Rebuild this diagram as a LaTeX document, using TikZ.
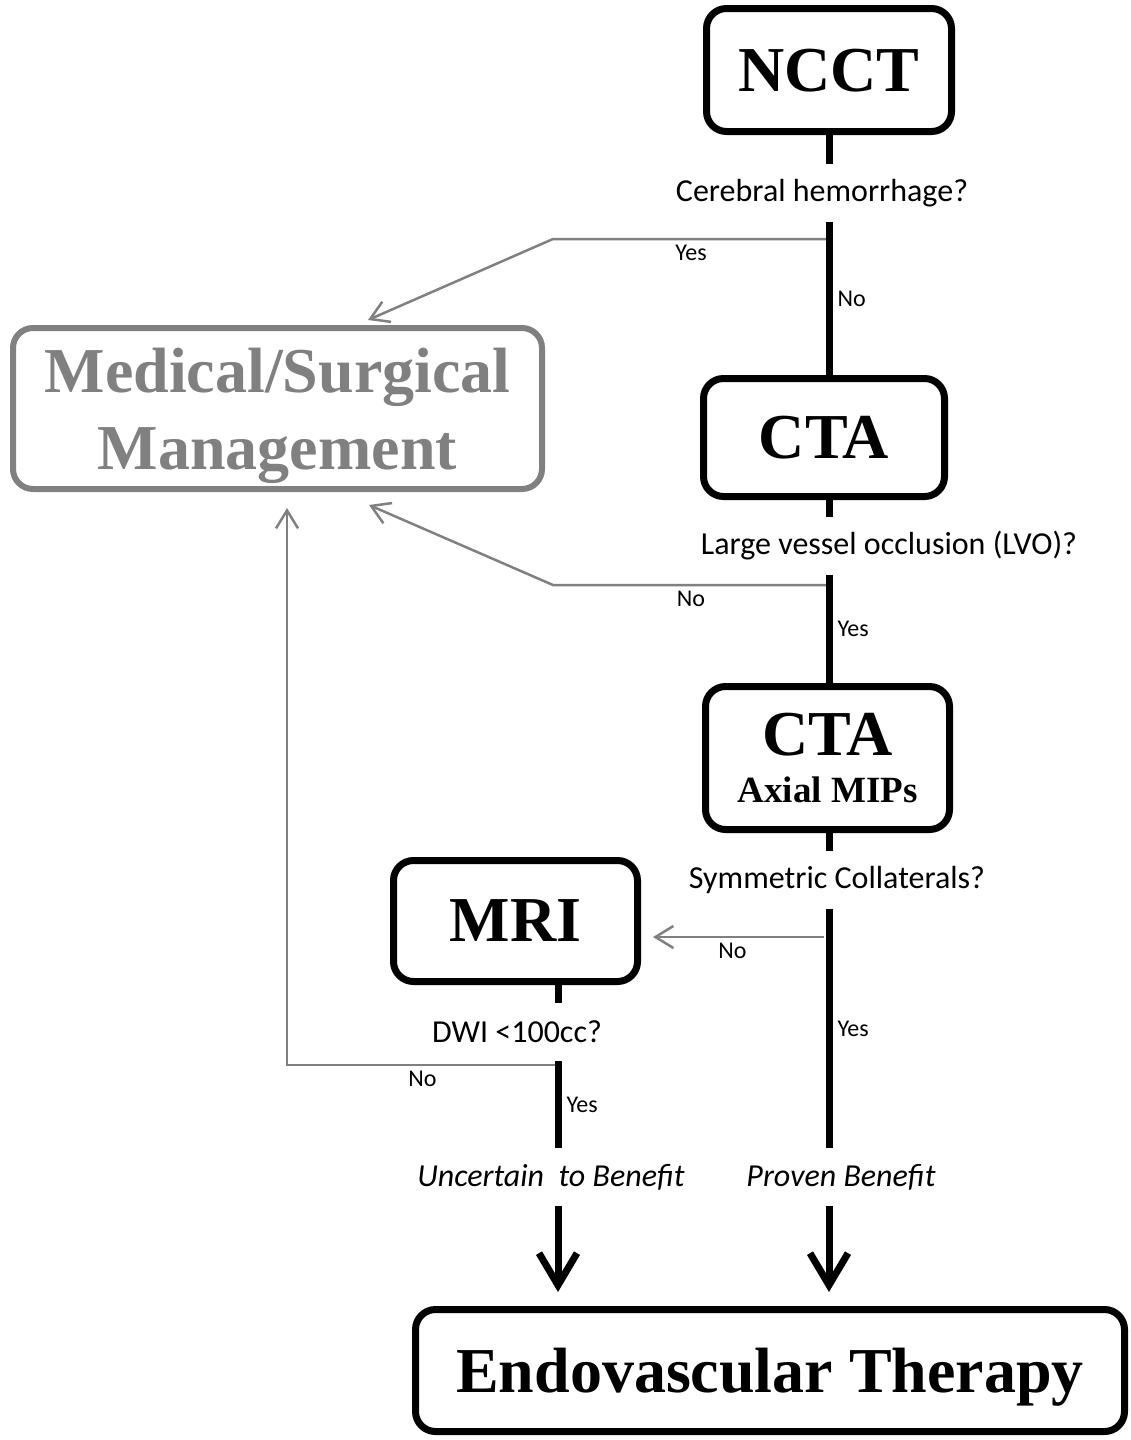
\documentclass[tikz,border=0pt]{standalone}
\usepackage{fontspec}
\setmainfont{Liberation Serif}
\newfontfamily\labelfont{Carlito}
\usetikzlibrary{arrows.meta}
\usetikzlibrary{positioning}
\definecolor{mgray}{HTML}{808080}
\tikzset{x=1pt, y=-1pt,
test/.style={ % Sets the properties for each exam box
draw,
line width=7pt,
rounded corners=20pt,
inner sep=0pt,
text depth=0pt,
align=center,
font=\bfseries\fontsize{64}{77}\selectfont},
offtest/.style={ % The gray management box
test,
draw=mgray,
text=mgray,
line width=6pt},
question/.style={ % Question text sitting in a gap of the line
font=\labelfont\fontsize{32}{38}\selectfont,
minimum height=58pt,
inner sep=0pt},
outcome/.style={ % Italic benefit text
question,
font=\labelfont\itshape\fontsize{32}{38}\selectfont},
answer/.style={ % Yes/No on the lines
font=\labelfont\fontsize{24}{29}\selectfont,
inner sep=5pt},
mainline/.style={draw, line width=7pt},
sideline/.style={ % Thin gray branch with open tip
draw=mgray,
line width=2.5pt,
-{Straight Barb[length=18pt,width=22pt]}},
finalarrow/.style={mainline, -{Straight Barb[length=32pt,width=38pt]}}}

\begin{document}
\begin{tikzpicture}
	\useasboundingbox (0,0) rectangle (1130,1440);
	\coordinate (spine) at (829,0);
	\coordinate (side) at (558,0);
	% boxes
	\node[test, minimum width=245pt, minimum height=123pt] (ncct) at (829,70) {NCCT};
	\node[test, minimum width=241pt, minimum height=118pt] (cta) at (824,437.5) {CTA};
	\node[test, minimum width=244pt, minimum height=143pt, text depth=-12pt] (mips) at (827.5,758) {CTA\\[-30pt]{\fontsize{37}{44}\selectfont Axial MIPs}};
	\node[test, minimum width=244pt, minimum height=121pt] (mri) at (515.5,921) {MRI};
	\node[offtest, minimum width=529pt, minimum height=161pt] (msm) at (277.5,408.5) {Medical/Surgical\\Management};
	\node[test, minimum width=709pt, minimum height=122pt] (evt) at (770,1370.5) {Endovascular Therapy};
	% questions
	\node[question] (q1) at (822,193) {Cerebral hemorrhage?};
	\node[question] (q2) at (889,546) {Large vessel occlusion (LVO)?};
	\node[question] (q3) at (837,880) {Symmetric Collaterals?};
	\node[question] (q4) at (517,1032) {DWI <100cc?};
	\node[outcome] (unc) at (551,1177) {Uncertain\ \ to Benefit};
	\node[outcome] (pro) at (841,1177) {Proven Benefit};
	% gray branches
	\coordinate (b1) at (829,239);
	\coordinate (k1) at (553,239);
	\coordinate (t1) at (368,320);
	\coordinate (b2) at (829,585);
	\coordinate (k2) at (553,585);
	\coordinate (t2) at (369,505);
	\coordinate (b3) at (824,937);
	\coordinate (b4) at (558,1065);
	\coordinate (k4) at (287,1065);
	\draw[sideline] (b1) -- node[answer, below]{Yes} (k1) -- (t1);
	\draw[sideline] (b2) -- node[answer, below]{No} (k2) -- (t2);
	\draw[sideline, shorten >=12pt] (b3) -- node[answer, below]{No} (b3 -| mri.east);
	\draw[sideline, shorten >=16pt] (b4) -- node[answer, below]{No} (k4) -- (k4 |- msm.south);
	% main line
	\draw[mainline] (ncct.south -| spine) -- (q1.north -| spine);
	\draw[mainline] (q1.south -| spine) -- node[answer, right]{No} (cta.north -| spine);
	\draw[mainline] (cta.south -| spine) -- (q2.north -| spine);
	\draw[mainline] (q2.south -| spine) -- node[answer, right]{Yes} (mips.north -| spine);
	\draw[mainline] (mips.south -| spine) -- (q3.north -| spine);
	\draw[mainline] (q3.south -| spine) -- node[answer, right]{Yes} (pro.north -| spine);
	\draw[finalarrow, shorten >=14pt] (pro.south -| spine) -- (evt.north -| spine);
	\draw[mainline] (mri.south -| side) -- (q4.north -| side);
	\draw[mainline] (q4.south -| side) -- node[answer, right]{Yes} (unc.north -| side);
	\draw[finalarrow, shorten >=14pt] (unc.south -| side) -- (evt.north -| side);
\end{tikzpicture}
\end{document}
